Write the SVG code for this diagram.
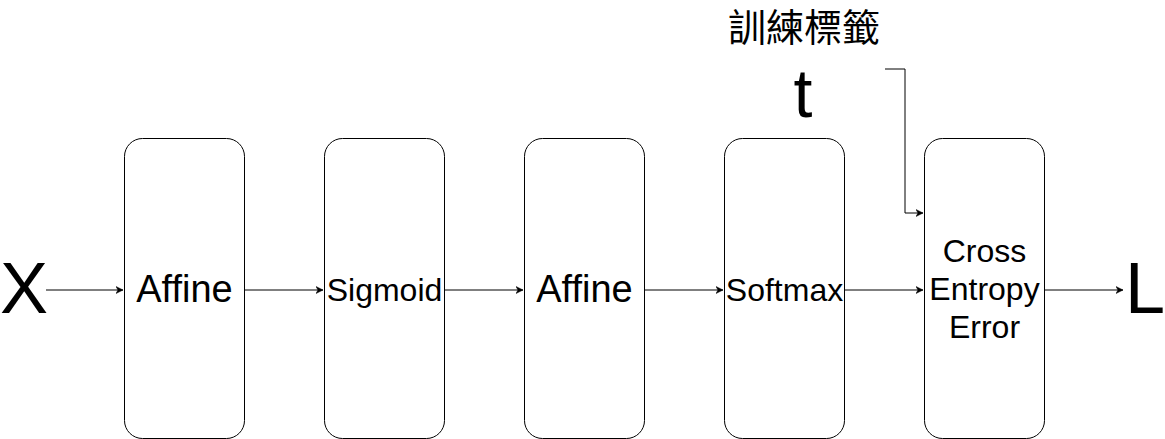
<svg xmlns="http://www.w3.org/2000/svg" width="1165" height="439" viewBox="0 0 1165 439">
<style>
.box{fill:#fff;stroke:#000;stroke-width:1}
.lbl{font-family:"Liberation Sans",Arial,sans-serif;fill:#000;text-anchor:middle}
.cjk{font-family:"Liberation Sans","Noto Sans CJK TC",sans-serif}
.edge{fill:none;stroke:#000;stroke-width:1}
</style>
<defs>
<marker id="ah" markerWidth="8" markerHeight="8" refX="7" refY="4" orient="auto" markerUnits="userSpaceOnUse">
<path d="M0,0.5 L7,4 L0,7.5 L2,4 Z" fill="#000" stroke="#000" stroke-width="0.5"/>
</marker>
</defs>
<rect width="1165" height="439" fill="#fff"/>
<g id="connectors">
<path class="edge" d="M46,290 H123" marker-end="url(#ah)"/>
<path class="edge" d="M244,290 H323" marker-end="url(#ah)"/>
<path class="edge" d="M444,290 H523" marker-end="url(#ah)"/>
<path class="edge" d="M644,290 H723" marker-end="url(#ah)"/>
<path class="edge" d="M844,290 H923" marker-end="url(#ah)"/>
<path class="edge" d="M1044,290 H1123" marker-end="url(#ah)"/>
<path class="edge" d="M885,69 H905 V213 H923" marker-end="url(#ah)"/>
</g>
<g id="node-x"><text class="lbl" x="24" y="313" font-size="72">X</text></g>
<g id="node-affine1"><rect class="box" x="124.5" y="138.5" width="120" height="300" rx="18" ry="18"/><text class="lbl" x="184.5" y="302" font-size="38">Affine</text></g>
<g id="node-sigmoid"><rect class="box" x="324.5" y="138.5" width="120" height="300" rx="18" ry="18"/><text class="lbl" x="384.5" y="301" font-size="32">Sigmoid</text></g>
<g id="node-affine2"><rect class="box" x="524.5" y="138.5" width="120" height="300" rx="18" ry="18"/><text class="lbl" x="584.5" y="302" font-size="38">Affine</text></g>
<g id="node-softmax"><rect class="box" x="724.5" y="138.5" width="120" height="300" rx="18" ry="18"/><text class="lbl" x="784.5" y="301" font-size="32">Softmax</text></g>
<g id="node-cee"><rect class="box" x="924.5" y="138.5" width="120" height="300" rx="18" ry="18"/><text class="lbl" x="984.5" y="262" font-size="32">Cross</text><text class="lbl" x="984.5" y="300" font-size="32">Entropy</text><text class="lbl" x="984.5" y="338" font-size="32">Error</text></g>
<g id="node-l"><text class="lbl" x="1145" y="313" font-size="72">L</text></g>
<g id="node-t"><text class="lbl" x="803" y="117" font-size="68">t</text></g>
<g id="node-label"><text class="lbl cjk" x="804" y="41" font-size="38">訓練標籤</text></g>
</svg>
